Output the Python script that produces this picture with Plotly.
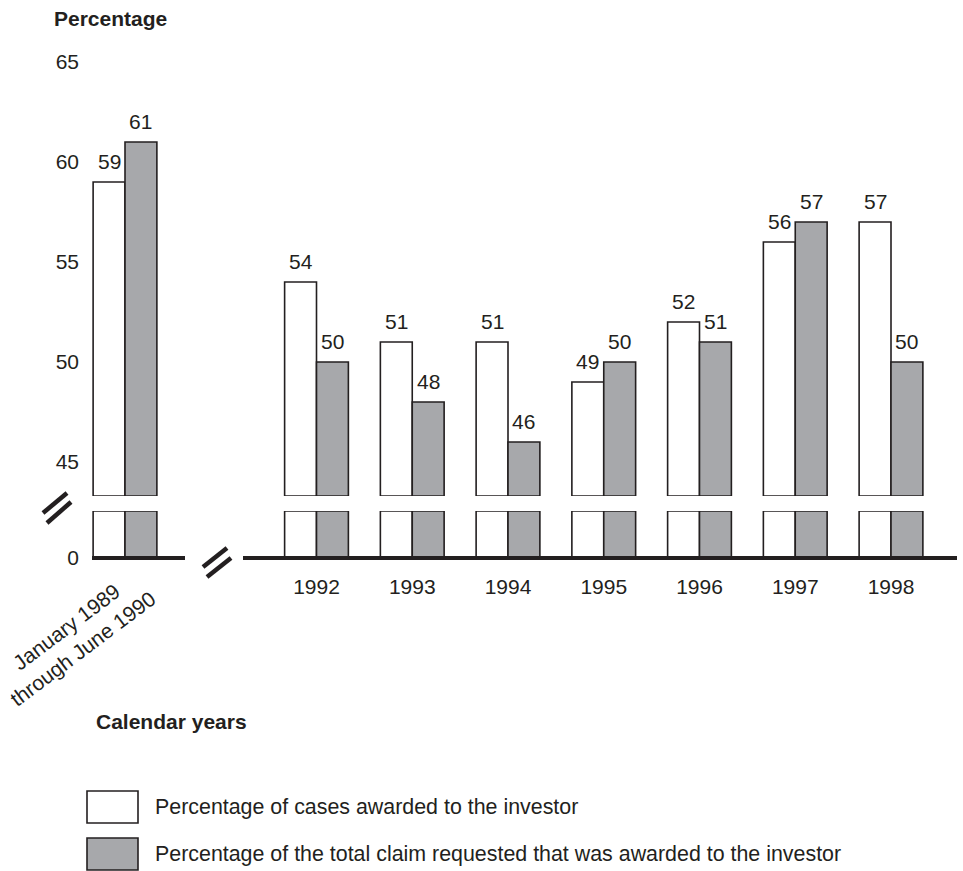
import plotly.graph_objects as go

# Award outcomes by period
periods = ["January 1989<br>through June 1990", "1992", "1993", "1994", "1995", "1996", "1997", "1998"]
positions = [0, 2, 3, 4, 5, 6, 7, 8]          # gap at 1991 for the broken category axis
cases_awarded = [59, 54, 51, 51, 49, 52, 56, 57]
claim_awarded = [61, 50, 48, 46, 50, 51, 57, 50]
series_names = [
    "Percentage of cases awarded to the investor",
    "Percentage of the total claim requested that was awarded to the investor",
]
y_ticks_upper = [45, 50, 55, 60, 65]

W, H = 963, 871
BREAK = 43.3          # value where the vertical axis is broken
BAR_W = 0.333
INK = "#231f20"
GRAY = "#a7a8ab"
FONT = "Liberation Sans, Arial, sans-serif"
FS = 21


def px(x):
    return x / W


def py(y):
    return 1 - y / H


fig = go.Figure()

fills = ["white", GRAY]
offsets = [-BAR_W, 0]
series = [cases_awarded, claim_awarded]

for vals, fill, off, name in zip(series, fills, offsets, series_names):
    # upper segment: from the break up to the value
    fig.add_trace(go.Bar(
        x=positions, y=[v - BREAK for v in vals], base=BREAK,
        width=BAR_W, offset=off, xaxis="x", yaxis="y2",
        marker=dict(color=fill, line=dict(color=INK, width=1.6)),
        name=name, showlegend=False, hoverinfo="skip",
    ))
    # lower stub: zero up to the break
    fig.add_trace(go.Bar(
        x=positions, y=[min(v, BREAK) for v in vals],
        width=BAR_W, offset=off, xaxis="x", yaxis="y",
        marker=dict(color=fill, line=dict(color=INK, width=1.6)),
        name=name, showlegend=False, hoverinfo="skip",
    ))

annotations = []
for vals, off in zip(series, offsets):
    for p, v in zip(positions, vals):
        annotations.append(dict(
            x=p + off + BAR_W / 2, y=v, xref="x", yref="y2",
            text=str(v), showarrow=False, yanchor="bottom", yshift=7,
            font=dict(size=FS, color=INK, family=FONT),
        ))

# rotated label for the first period
annotations.append(dict(
    x=px(74), y=py(638), xref="paper", yref="paper", text=periods[0],
    showarrow=False, textangle=-37, xanchor="center", yanchor="middle",
    font=dict(size=FS, color=INK, family=FONT),
))
annotations.append(dict(
    x=px(52), y=py(18), xref="paper", yref="paper", text="<b>Percentage</b>",
    showarrow=False, xanchor="left", yanchor="middle",
    font=dict(size=FS, color=INK, family=FONT),
))
annotations.append(dict(
    x=px(94), y=py(721), xref="paper", yref="paper", text="<b>Calendar years</b>",
    showarrow=False, xanchor="left", yanchor="middle",
    font=dict(size=FS, color=INK, family=FONT),
))

shapes = []
# legend swatches and captions
for i, (fill, name) in enumerate(zip(fills, series_names)):
    top = 791 + i * 47
    shapes.append(dict(type="rect", xref="paper", yref="paper",
                       x0=px(87), x1=px(138), y0=py(top + 32), y1=py(top),
                       fillcolor=fill, line=dict(color=INK, width=1.6)))
    annotations.append(dict(
        x=px(153), y=py(top + 16), xref="paper", yref="paper", text=name,
        showarrow=False, xanchor="left", yanchor="middle",
        font=dict(size=21.4, color=INK, family=FONT),
    ))

# baseline in two pieces around the category break
for x0, x1 in [(92, 185), (243, 957)]:
    shapes.append(dict(type="line", xref="paper", yref="paper",
                       x0=px(x0), x1=px(x1), y0=py(558), y1=py(558),
                       line=dict(color=INK, width=4)))

# double-slash break marks
for (ax, ay, bx, by) in [(43, 513, 67, 493), (47, 523, 71, 502),
                         (203, 567, 227, 548), (207, 577, 231, 558)]:
    shapes.append(dict(type="line", xref="paper", yref="paper",
                       x0=px(ax), x1=px(bx), y0=py(ay), y1=py(by),
                       line=dict(color=INK, width=4.5)))

x0_px = 80
scale = 95.75  # pixels per category unit
fig.update_layout(
    width=W, height=H,
    margin=dict(l=0, r=0, t=0, b=0, autoexpand=False),
    paper_bgcolor="white", plot_bgcolor="rgba(0,0,0,0)",
    barmode="overlay",
    font=dict(family=FONT, size=FS, color=INK),
    xaxis=dict(
        domain=[px(x0_px), 1],
        range=[(x0_px - 125) / scale, (W - 125) / scale],
        tickvals=positions[1:], ticktext=periods[1:],
        showgrid=False, zeroline=False, showline=False, ticks="",
        tickfont=dict(size=FS, color=INK), anchor="y",
        ticklabelstandoff=14,
        automargin=False, fixedrange=True,
    ),
    yaxis=dict(
        domain=[py(558), py(511)], range=[0, BREAK],
        tickvals=[0], ticktext=["0"],
        showgrid=False, zeroline=False, showline=False, ticks="",
        tickfont=dict(size=FS, color=INK), anchor="x", automargin=False,
    ),
    yaxis2=dict(
        domain=[py(496), py(40)], range=[BREAK, BREAK + 456 / 20],
        tickvals=y_ticks_upper,
        showgrid=False, zeroline=False, showline=False, ticks="",
        tickfont=dict(size=FS, color=INK), anchor="x", automargin=False,
    ),
    annotations=annotations,
    shapes=shapes,
)

fig.write_html("out.html")
